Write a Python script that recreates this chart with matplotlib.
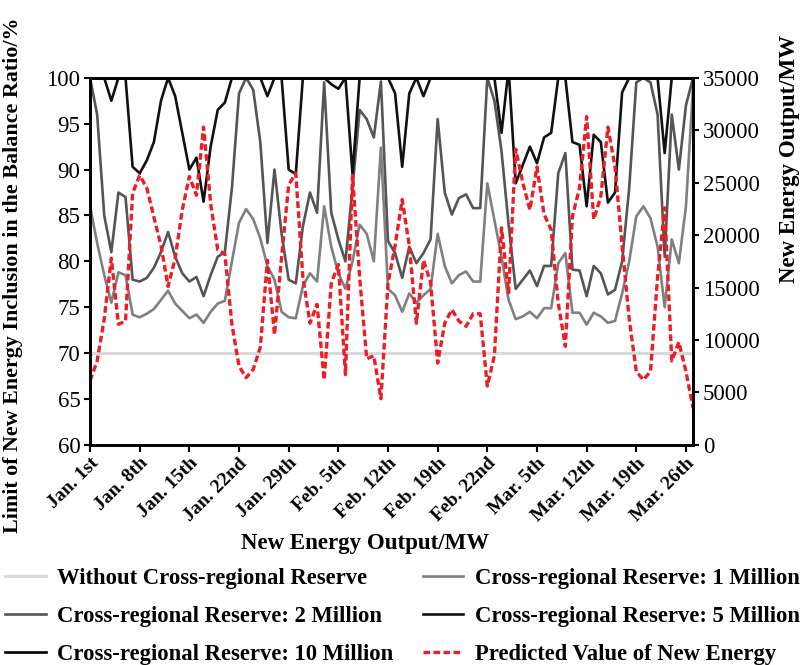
import matplotlib
matplotlib.use("Agg")
import matplotlib.pyplot as plt

plt.rcParams['font.family'] = ['Liberation Serif', 'DejaVu Serif']

days = list(range(86))
tick_pos = [0, 7, 14, 21, 28, 35, 42, 49, 56, 63, 70, 77, 84]
tick_labels = ["Jan. 1st", "Jan. 8th", "Jan. 15th", "Jan. 22nd", "Jan. 29th",
               "Feb. 5th", "Feb. 12th", "Feb. 19th", "Feb. 22nd", "Mar. 5th",
               "Mar. 12th", "Mar. 19th", "Mar. 26th"]

without_reserve = [70.0] * 86

reserve_1m = [86, 82, 78.5, 75.5, 78.8, 78.5, 74.2, 73.9, 74.3, 74.8,
              75.8, 76.8, 75.4, 74.6, 73.8, 74.2, 73.3, 74.5, 75.4, 75.7,
              80, 84.2, 85.7, 84.6, 82.5, 79.5, 78, 74.5, 73.9, 73.8,
              77.3, 78.7, 77.8, 86, 81.6, 78.7, 77, 80, 84, 83,
              80, 92.4, 77, 76.3, 74.5, 76.5, 75.5, 76.3, 77, 83,
              79.5, 77.6, 78.5, 78.9, 77.8, 77.8, 88.5, 84.5, 80.5, 75.8,
              73.7, 74, 74.5, 73.8, 74.9, 74.9, 79.8, 80.9, 74.4, 74.4,
              73.1, 74.4, 74, 73.3, 73.5, 76.5, 80, 84.9, 86, 84.7,
              81.6, 75, 82.4, 79.8, 86, 99]

reserve_2m = [100, 96, 85, 81, 87.5, 87, 78, 77.8, 78.2, 79.3,
              81, 83.2, 80.5, 78.7, 77.8, 78.3, 76.2, 78.5, 80.5, 81,
              88, 98.3, 100, 98.7, 93, 82, 90, 83, 78, 77.6,
              83.8, 87.5, 85.3, 99.5, 85.3, 82.4, 80, 88, 96.5, 95.5,
              93.5, 99.6, 82.2, 80.9, 78.2, 81.6, 79.8, 80.9, 82.4, 95.5,
              87.5, 85.1, 86.9, 87.3, 85.8, 85.8, 100, 97.5, 92, 84,
              77, 78, 79, 77.3, 79.5, 79.5, 89.6, 91.8, 79.1, 79,
              76.2, 79.5, 78.7, 76.4, 76.9, 80, 88, 99.5, 100, 99.5,
              96, 80.5, 96, 90, 97, 100]

reserve_5m = [100, 100, 100, 97.5, 100, 100, 90.3, 89.6, 91, 93,
              97.5, 100, 98, 94, 90, 91.3, 86.5, 92.5, 96.5, 97.3,
              100, 100, 100, 100, 100, 98, 100, 100, 90, 89.5,
              100, 100, 100, 100, 99.3, 98.8, 100, 89.5, 100, 100,
              100, 100, 100, 98.3, 90.3, 98.3, 100, 98, 100, 100,
              100, 100, 100, 100, 100, 100, 100, 100, 94, 101,
              88.5, 90.5, 92.5, 90.7, 93.5, 94, 100, 100, 93, 92.7,
              86, 93.8, 93, 86.4, 87.5, 98.4, 100, 100, 100, 100,
              100, 91.8, 100, 100, 100, 100]

reserve_10m = [100.0] * 86

predicted_mw = [6100, 8000, 12000, 17800, 11500, 11800, 24000, 25700, 24500, 21700,
                19000, 15100, 17800, 22400, 25600, 23800, 30300, 23000, 18600, 18200,
                11500, 7500, 6400, 7200, 9300, 17600, 10500, 17900, 24800, 25900,
                16000, 11600, 13400, 6200, 15400, 17200, 6700, 25700, 16000, 8200,
                8500, 4400, 15400, 19000, 23400, 19000, 11600, 17600, 15500, 7800,
                11600, 12900, 11800, 11300, 12500, 12500, 5600, 8500, 20700, 14500,
                28200, 25000, 22400, 26500, 22000, 20500, 13500, 9400, 21800, 24500,
                31300, 21500, 23700, 30300, 26500, 19000, 12000, 7000, 6200, 7000,
                16000, 22600, 8000, 9800, 7000, 3500]

fig = plt.figure(figsize=(8.04, 6.65), dpi=100)
ax = fig.add_axes([0.112, 0.331, 0.750, 0.552])
ax2 = ax.twinx()

lw = 1.9
l0, = ax.plot(days, without_reserve, color='#d9d9d9', lw=2.2, label='Without Cross-regional Reserve')
l1, = ax.plot(days, reserve_1m, color='#808080', lw=lw, label='Cross-regional Reserve: 1 Million')
l2, = ax.plot(days, reserve_2m, color='#555555', lw=lw, label='Cross-regional Reserve: 2 Million')
l3, = ax.plot(days, reserve_5m, color='#111111', lw=lw, label='Cross-regional Reserve: 5 Million')
l4, = ax.plot(days, reserve_10m, color='#000000', lw=lw, label='Cross-regional Reserve: 10 Million')
l5, = ax2.plot(days, predicted_mw, color='#ee1c25', lw=2.4, ls=(0, (2.0, 1.0)),
               label='Predicted Value of New Energy')

ax.set_xlim(0, 85)
ax.set_ylim(60, 100)
ax2.set_ylim(0, 35000)
ax.set_yticks(range(60, 101, 5))
ax2.set_yticks(range(0, 35001, 5000))
ax.set_xticks(tick_pos)
ax.set_xticklabels(tick_labels, rotation=45, ha='right', rotation_mode='anchor',
                   fontweight='bold', fontsize=14)
ax.tick_params(axis='y', labelsize=16.5, direction='out', length=4, width=1.5, pad=3)
ax2.tick_params(axis='y', labelsize=16.5, direction='out', length=4, width=1.5, pad=3)
ax.tick_params(axis='x', direction='out', length=5, width=1.5, pad=2)

for a in (ax, ax2):
    for s in a.spines.values():
        s.set_linewidth(2.0)
        s.set_color('black')

ax.set_ylabel('Limit of New Energy Inclusion in the Balance Ratio/%', fontsize=15.8,
              fontweight='bold')
ax.yaxis.set_label_coords(-0.112, 0.463)
ax2.set_ylabel('New Energy Output/MW', fontsize=16.5, fontweight='bold')
ax2.yaxis.set_label_coords(1.143, 0.78)
ax.set_xlabel('New Energy Output/MW', fontsize=16.5, fontweight='bold')
ax.xaxis.set_label_coords(0.456, -0.24)

handles = [l0, l2, l4, l1, l3, l5]
fig.legend(handles=handles, labels=[h.get_label() for h in handles], ncol=2,
           loc='upper left', bbox_to_anchor=(0.006, 0.146), frameon=False,
           borderpad=0, borderaxespad=0,
           prop={'weight': 'bold', 'size': 16.3}, handlelength=1.8,
           columnspacing=1.3, labelspacing=0.75, handletextpad=0.5)

fig.savefig('out.png', dpi=100)
